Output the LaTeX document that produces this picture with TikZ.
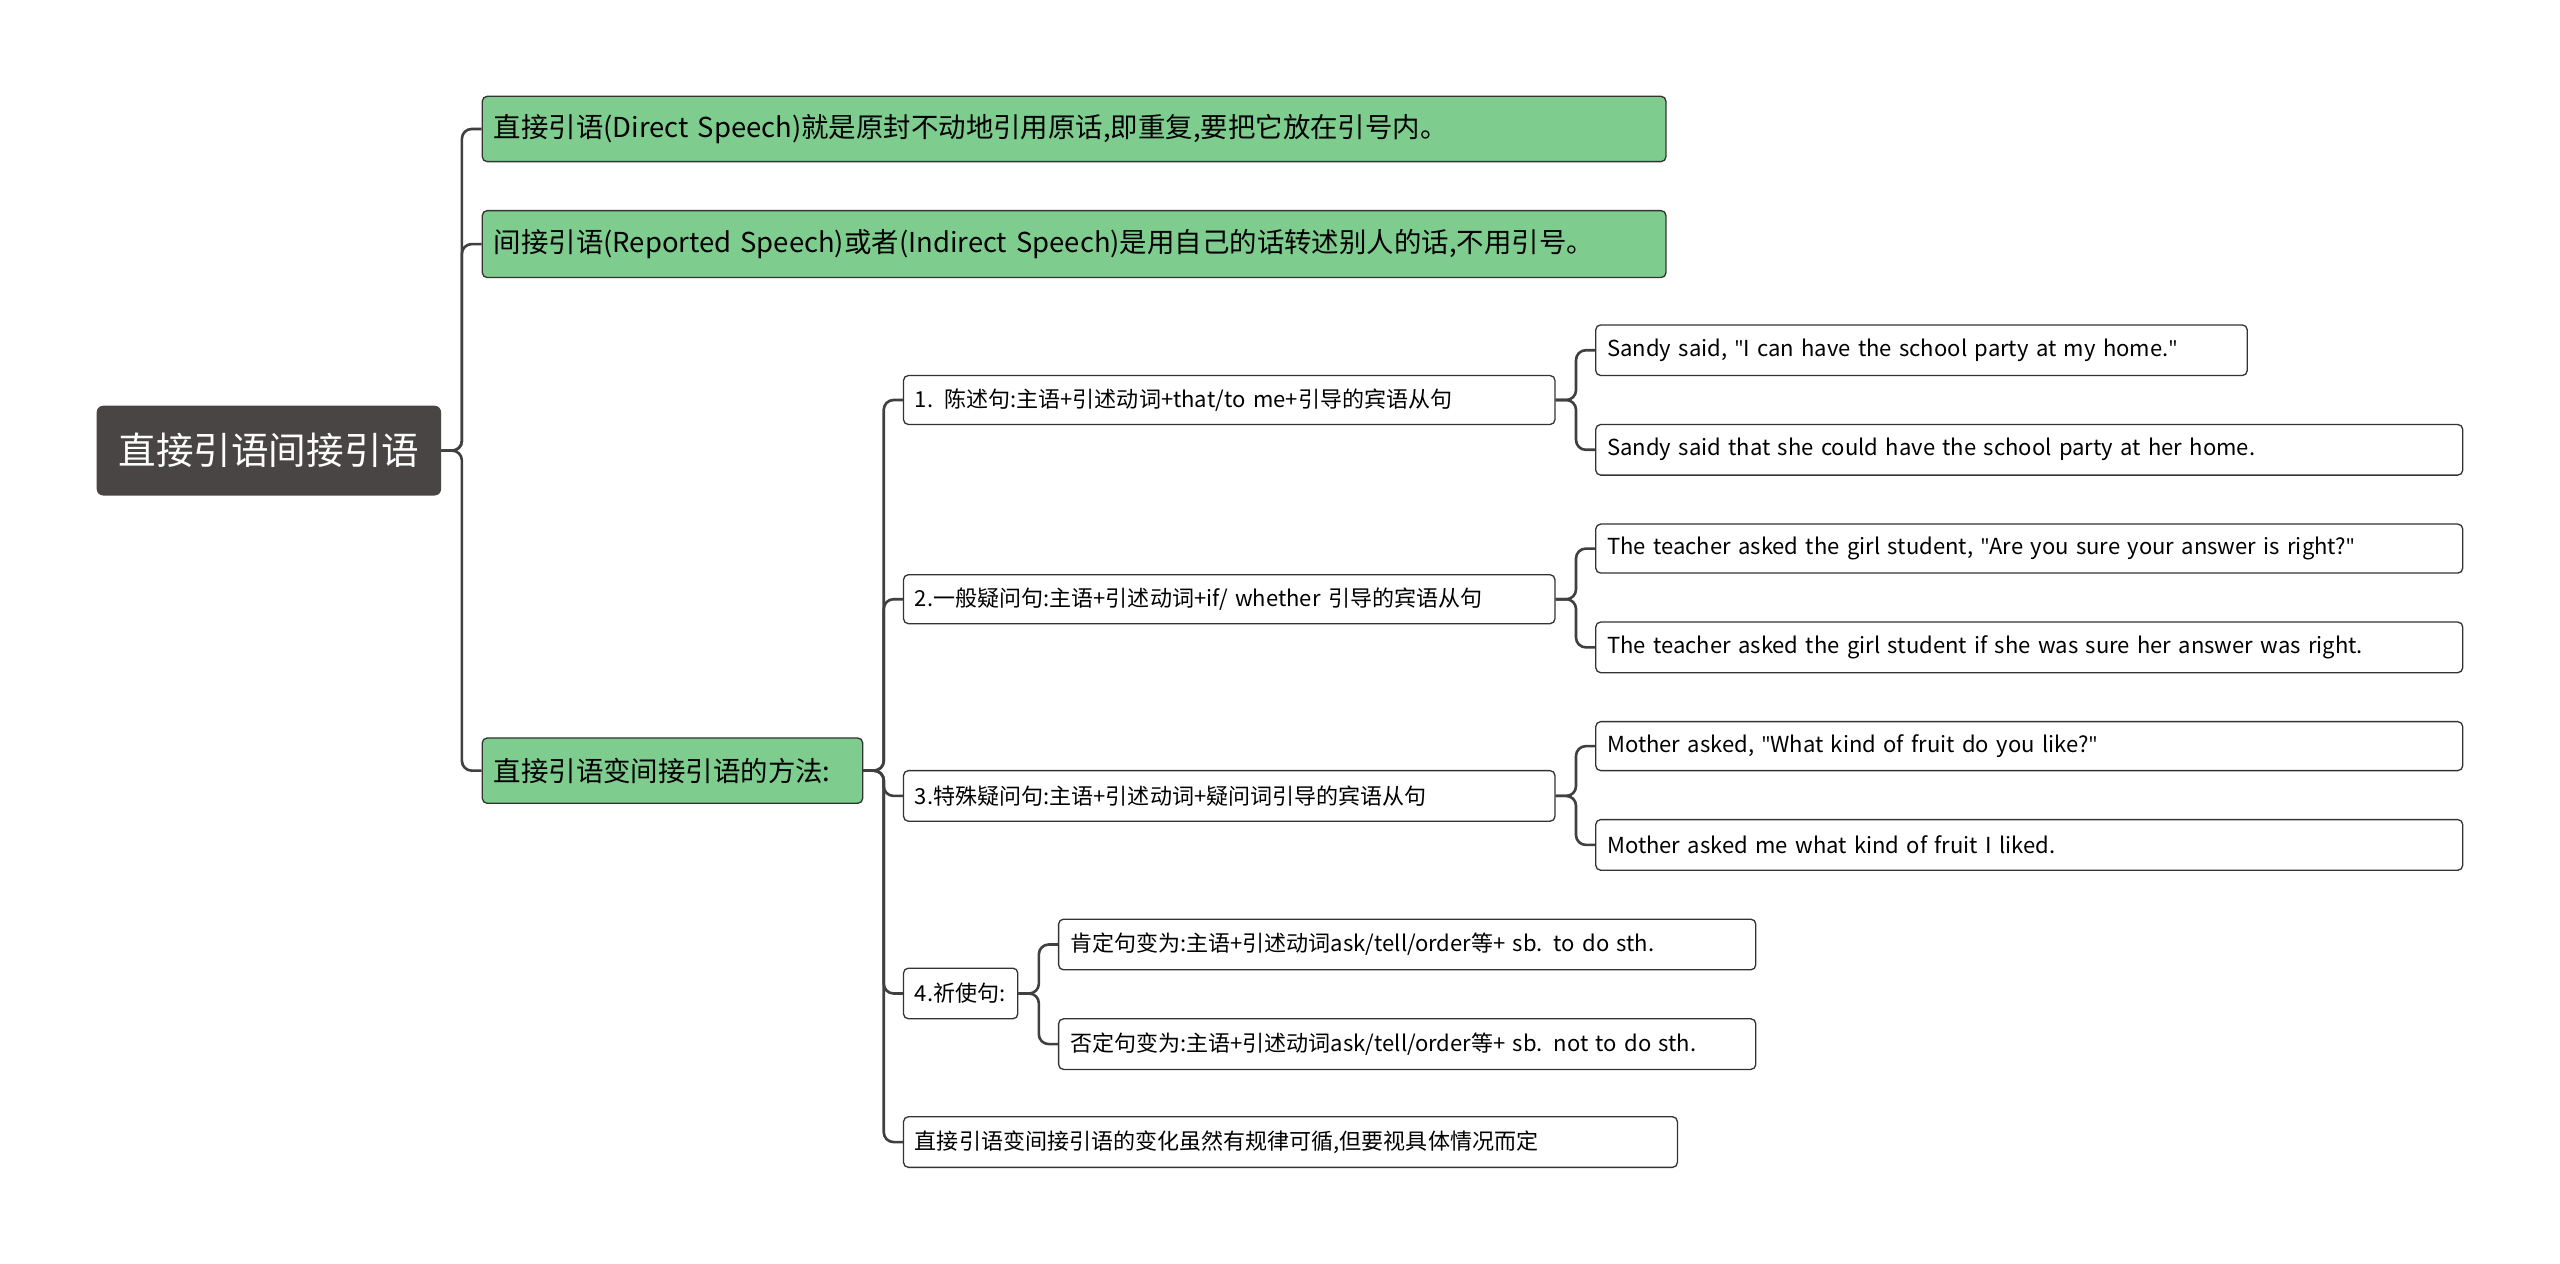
\documentclass[tikz,border=0pt]{standalone}
\usepackage{fontspec}
\setmainfont{Noto Sans CJK SC}
\newfontfamily\lat{Open Sans}
\newcommand{\qq}{{\lat"}}
\begin{document}
\begin{tikzpicture}[x=1pt,y=-1pt,
  box/.style={draw=black!80,line width=0.8pt,rounded corners=3pt,anchor=west,inner xsep=7pt,inner ysep=0pt,align=left},
  green/.style={box,fill={rgb,255:red,127;green,204;blue,143},font=\fontsize{16.8}{18}\selectfont},
  small/.style={box,fill=white,font=\fontsize{13.5}{15}\selectfont},
  conn/.style={draw=black!75,line width=1.6pt,rounded corners=6pt}]
\useasboundingbox (0,0) rectangle (1568,774);
\fill[white] (0,0) rectangle (1568,774);
\newcommand{\bx}[6]{\node[#1,minimum width=#4,text width=#4-14,minimum height=#5] (#2) at (#3) {#6};}
\node[draw=none,fill={rgb,255:red,74;green,69;blue,69},rounded corners=4pt,text=white,minimum width=211,minimum height=55,anchor=west,font=\fontsize{23}{26}\selectfont] (root) at (59,276) {直接引语间接引语};
\bx{green}{g1}{295,79}{725}{40}{直接引语(Direct Speech)就是原封不动地引用原话,即重复,要把它放在引号内。}
\bx{green}{g2}{295,149.5}{725}{41}{间接引语(Reported Speech)或者(Indirect Speech)是用自己的话转述别人的话,不用引号。}
\bx{green}{g3}{295,472}{233}{40}{直接引语变间接引语的方法:}
\bx{small}{a1}{553,245}{399}{30}{1. 陈述句:主语+引述动词+that/to me+引导的宾语从句}
\bx{small}{a2}{553,367}{399}{30}{2.一般疑问句:主语+引述动词+if/ whether 引导的宾语从句}
\bx{small}{a3}{553,487.5}{399}{31}{3.特殊疑问句:主语+引述动词+疑问词引导的宾语从句}
\bx{small}{a4}{553,608.5}{70}{31}{4.祈使句:}
\bx{small}{a5}{553,699.5}{474}{31}{直接引语变间接引语的变化虽然有规律可循,但要视具体情况而定}
\bx{small}{b1}{977,214.5}{399}{31}{Sandy said, \qq I can have the school party at my home.\qq}
\bx{small}{b2}{977,275.5}{531}{31}{Sandy said that she could have the school party at her home.}
\bx{small}{b3}{977,336}{531}{30}{The teacher asked the girl student, \qq Are you sure your answer is right?\qq}
\bx{small}{b4}{977,396.5}{531}{31}{The teacher asked the girl student if she was sure her answer was right.}
\bx{small}{b5}{977,457}{531}{30}{Mother asked, \qq What kind of fruit do you like?\qq}
\bx{small}{b6}{977,517.5}{531}{31}{Mother asked me what kind of fruit I liked.}
\bx{small}{c1}{648,578.5}{427}{31}{肯定句变为:主语+引述动词ask/tell/order等+ sb. to do sth.}
\bx{small}{c2}{648,639.5}{427}{31}{否定句变为:主语+引述动词ask/tell/order等+ sb. not to do sth.}
\foreach \p/\c in {root/g1,root/g2,root/g3,g3/a1,g3/a2,g3/a3,g3/a4,g3/a5,a1/b1,a1/b2,a2/b3,a2/b4,a3/b5,a3/b6,a4/c1,a4/c2}
  \draw[conn] (\p.east) -- ++(12.5,0) |- (\c.west);
\end{tikzpicture}
\end{document}
